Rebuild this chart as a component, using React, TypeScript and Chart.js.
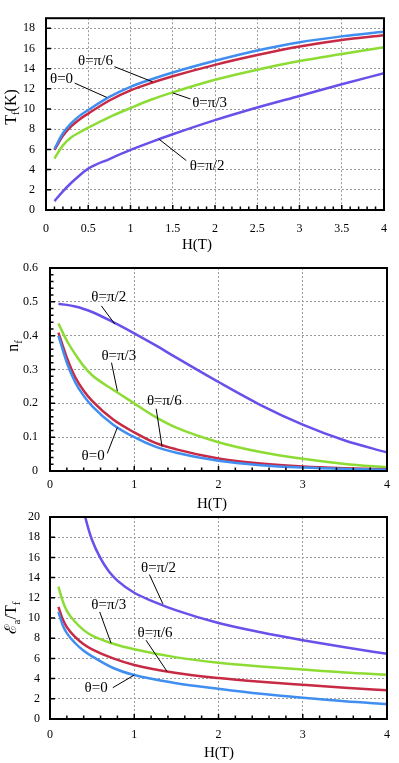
import React, { useEffect, useRef } from 'react';
import { Chart, registerables } from 'chart.js';
Chart.register(...registerables);

// ---------- Data ----------
// Panel 1: T_f(K) vs H(T)
const H1 = [0.1, 0.2, 0.3, 0.4, 0.5, 0.75, 1, 1.25, 1.5, 2, 2.5, 3, 3.5, 4];
const tfTheta0 = [6.05, 7.6, 8.6, 9.35, 9.9, 11.2, 12.2, 12.95, 13.62, 14.78, 15.8, 16.62, 17.2, 17.65];
const tfThetaPi6 = [5.95, 7.35, 8.3, 9.0, 9.55, 10.85, 11.85, 12.6, 13.25, 14.38, 15.35, 16.2, 16.85, 17.32];
const tfThetaPi3 = [5.1, 6.4, 7.2, 7.7, 8.15, 9.2, 10.1, 10.95, 11.65, 12.9, 13.9, 14.75, 15.45, 16.13];
const tfThetaPi2 = [0.88, 1.85, 2.7, 3.45, 4.1, 5.05, 5.95, 6.75, 7.5, 8.9, 10.15, 11.3, 12.45, 13.55];

// Panel 2: n_f vs H(T)
const H2 = [0.1, 0.2, 0.3, 0.4, 0.5, 0.75, 1, 1.25, 1.5, 2, 2.5, 3, 3.5, 4];
const nfTheta0 = [0.4, 0.32, 0.262, 0.222, 0.192, 0.137, 0.1, 0.072, 0.054, 0.03, 0.017, 0.01, 0.006, 0.004];
const nfThetaPi6 = [0.409, 0.335, 0.277, 0.237, 0.207, 0.152, 0.114, 0.083, 0.064, 0.037, 0.022, 0.013, 0.008, 0.005];
const nfThetaPi3 = [0.436, 0.385, 0.345, 0.31, 0.283, 0.24, 0.2, 0.16, 0.128, 0.085, 0.056, 0.036, 0.021, 0.011];
const nfThetaPi2 = [0.494, 0.491, 0.486, 0.479, 0.47, 0.44, 0.407, 0.372, 0.335, 0.263, 0.195, 0.137, 0.09, 0.055];

// Panel 3: E_a/T_f vs H(T)
const H3 = [0.1, 0.15, 0.2, 0.3, 0.4, 0.5, 0.75, 1, 1.5, 2, 2.5, 3, 3.5, 4];
const eaTheta0 = [10.6, 9.3, 8.5, 7.5, 6.75, 6.2, 5.05, 4.35, 3.55, 3.0, 2.5, 2.1, 1.75, 1.48];
const eaThetaPi6 = [11.1, 9.9, 9.1, 8.1, 7.4, 6.9, 6.0, 5.35, 4.55, 4.05, 3.68, 3.38, 3.1, 2.85];
const eaThetaPi3 = [13.1, 11.7, 10.7, 9.6, 8.8, 8.25, 7.45, 6.9, 6.1, 5.57, 5.2, 4.89, 4.6, 4.39];
const H3pi2 = [0.4, 0.45, 0.5, 0.6, 0.7, 0.8, 1, 1.25, 1.5, 2, 2.5, 3, 3.5, 4];
const eaThetaPi2 = [20.6, 19.0, 17.7, 15.9, 14.6, 13.7, 12.5, 11.55, 10.75, 9.5, 8.58, 7.8, 7.1, 6.45];

const seriesLabels = ['θ=0', 'θ=π/6', 'θ=π/3', 'θ=π/2'];
const COLORS = ['#3f8ef0', '#c62a44', '#8cdc34', '#6a50ea'];

// ---------- Layout ----------
const W = 399;
const HT = 763;
const SERIF = '"Liberation Serif", "Times New Roman", serif';

type Ann = { text: string; tx: number; ty: number; x1: number; y1: number; x2: number; y2: number };
type Seg = { t: string; sub?: boolean };

interface PanelCfg {
  series: { x: number[]; y: number[]; color: string }[];
  L: number; R: number; T: number; B: number;
  xStep: number; yMax: number; yStep: number;
  xMinor: number; yMinor: number | null;
  xPad: number; yPad: number;
  xTitle: { x: number; y: number };
  yTitle: { x: number; y: number; segs: Seg[] };
  anns: Ann[];
}

const panel1: PanelCfg = {
  series: [
    { x: H1, y: tfTheta0, color: COLORS[0] },
    { x: H1, y: tfThetaPi6, color: COLORS[1] },
    { x: H1, y: tfThetaPi3, color: COLORS[2] },
    { x: H1, y: tfThetaPi2, color: COLORS[3] },
  ],
  L: 46, R: 386, T: 8, B: 210,
  xStep: 0.5, yMax: 19, yStep: 2, xMinor: 0.1, yMinor: null,
  xPad: 12, yPad: 11,
  xTitle: { x: 197, y: 245 },
  yTitle: { x: 12.5, y: 107, segs: [{ t: 'T' }, { t: 'f', sub: true }, { t: '(K)' }] },
  anns: [
    { text: seriesLabels[1], tx: 0.38, ty: 14.75, x1: 0.81, y1: 14.2, x2: 1.26, y2: 12.7 },
    { text: seriesLabels[0], tx: 0.047, ty: 12.95, x1: 0.34, y1: 12.57, x2: 0.72, y2: 11.15 },
    { text: seriesLabels[2], tx: 1.73, ty: 10.64, x1: 1.71, y1: 11.0, x2: 1.5, y2: 11.6 },
    { text: seriesLabels[3], tx: 1.7, ty: 4.33, x1: 1.66, y1: 4.9, x2: 1.34, y2: 7.0 },
  ],
};

const panel2: PanelCfg = {
  series: [
    { x: H2, y: nfTheta0, color: COLORS[0] },
    { x: H2, y: nfThetaPi6, color: COLORS[1] },
    { x: H2, y: nfThetaPi3, color: COLORS[2] },
    { x: H2, y: nfThetaPi2, color: COLORS[3] },
  ],
  L: 50, R: 387, T: 268, B: 471,
  xStep: 1, yMax: 0.6, yStep: 0.1, xMinor: 0.2, yMinor: 0.02,
  xPad: 7, yPad: 12,
  xTitle: { x: 212, y: 504 },
  yTitle: { x: 15, y: 346, segs: [{ t: 'n' }, { t: 'f', sub: true }] },
  anns: [
    { text: seriesLabels[3], tx: 0.49, ty: 0.513, x1: 0.61, y1: 0.488, x2: 0.77, y2: 0.434 },
    { text: seriesLabels[2], tx: 0.61, ty: 0.34, x1: 0.73, y1: 0.32, x2: 0.8, y2: 0.236 },
    { text: seriesLabels[1], tx: 1.15, ty: 0.206, x1: 1.26, y1: 0.184, x2: 1.33, y2: 0.072 },
    { text: seriesLabels[0], tx: 0.375, ty: 0.043, x1: 0.68, y1: 0.052, x2: 0.8, y2: 0.129 },
  ],
};

const panel3: PanelCfg = {
  series: [
    { x: H3, y: eaTheta0, color: COLORS[0] },
    { x: H3, y: eaThetaPi6, color: COLORS[1] },
    { x: H3, y: eaThetaPi3, color: COLORS[2] },
    { x: H3pi2, y: eaThetaPi2, color: COLORS[3] },
  ],
  L: 50, R: 390, T: 517, B: 719,
  xStep: 1, yMax: 20, yStep: 2, xMinor: 0.2, yMinor: null,
  xPad: 9, yPad: 10,
  xTitle: { x: 219, y: 753 },
  yTitle: { x: 13, y: 618, segs: [{ t: 'ℰ' }, { t: 'a', sub: true }, { t: '/T' }, { t: 'f', sub: true }] },
  anns: [
    { text: seriesLabels[3], tx: 1.08, ty: 14.96, x1: 1.18, y1: 14.3, x2: 1.34, y2: 11.4 },
    { text: seriesLabels[2], tx: 0.49, ty: 11.27, x1: 0.59, y1: 10.6, x2: 0.725, y2: 7.5 },
    { text: seriesLabels[1], tx: 1.04, ty: 8.47, x1: 1.14, y1: 7.8, x2: 1.39, y2: 4.7 },
    { text: seriesLabels[0], tx: 0.41, ty: 3.1, x1: 0.745, y1: 3.1, x2: 1.0, y2: 4.35 },
  ],
};

const fmt = (v: any) => `${parseFloat(Number(v).toFixed(3))}`;

function makeDecorPlugin(p: PanelCfg) {
  return {
    id: 'decor',
    afterDatasetsDraw(chart: any) {
      const ctx = chart.ctx as CanvasRenderingContext2D;
      const xs = chart.scales.x;
      const ys = chart.scales.y;
      const ca = chart.chartArea;
      ctx.save();
      // inward ticks
      ctx.strokeStyle = '#000';
      ctx.lineWidth = 1.5;
      ctx.beginPath();
      const nx = Math.round(4 / p.xMinor);
      for (let i = 1; i < nx; i++) {
        const v = i * p.xMinor;
        const px = xs.getPixelForValue(v);
        const major = Math.abs(v / p.xStep - Math.round(v / p.xStep)) < 1e-6;
        const len = major ? 5 : 3.5;
        ctx.moveTo(px, ca.bottom);
        ctx.lineTo(px, ca.bottom - len);
      }
      const yStepTick = p.yMinor ?? p.yStep;
      const ny = Math.round(p.yMax / yStepTick);
      for (let i = 1; i <= ny; i++) {
        const v = i * yStepTick;
        if (v >= p.yMax - 1e-9) continue;
        const py = ys.getPixelForValue(v);
        const major = Math.abs(v / p.yStep - Math.round(v / p.yStep)) < 1e-6;
        const len = major ? 5 : 3.5;
        ctx.moveTo(ca.left, py);
        ctx.lineTo(ca.left + len, py);
      }
      ctx.stroke();
      // frame
      ctx.lineWidth = 2;
      ctx.strokeRect(ca.left, ca.top, ca.right - ca.left, ca.bottom - ca.top);
      // annotations
      ctx.lineWidth = 1;
      ctx.font = `15px ${SERIF}`;
      ctx.fillStyle = '#000';
      ctx.textAlign = 'left';
      ctx.textBaseline = 'middle';
      for (const a of p.anns) {
        ctx.beginPath();
        ctx.moveTo(xs.getPixelForValue(a.x1), ys.getPixelForValue(a.y1));
        ctx.lineTo(xs.getPixelForValue(a.x2), ys.getPixelForValue(a.y2));
        ctx.stroke();
        ctx.fillText(a.text, xs.getPixelForValue(a.tx), ys.getPixelForValue(a.ty));
      }
      // x title
      ctx.textAlign = 'center';
      ctx.font = `15px ${SERIF}`;
      ctx.fillText('H(T)', p.xTitle.x, p.xTitle.y);
      // y title (rotated, with subscripts)
      const mainFont = `16px ${SERIF}`;
      const subFont = `11px ${SERIF}`;
      let total = 0;
      for (const s of p.yTitle.segs) {
        ctx.font = s.sub ? subFont : mainFont;
        total += ctx.measureText(s.t).width;
      }
      ctx.translate(p.yTitle.x, p.yTitle.y);
      ctx.rotate(-Math.PI / 2);
      ctx.textAlign = 'left';
      let cx = -total / 2;
      for (const s of p.yTitle.segs) {
        ctx.font = s.sub ? subFont : mainFont;
        ctx.fillText(s.t, cx, s.sub ? 4 : -1);
        cx += ctx.measureText(s.t).width;
      }
      ctx.restore();
    },
  };
}

function buildConfig(p: PanelCfg): any {
  return {
    type: 'line',
    data: {
      datasets: p.series.map((s) => ({
        data: s.x.map((x, i) => ({ x, y: s.y[i] })),
        borderColor: s.color,
        borderWidth: 2.5,
        pointRadius: 0,
        fill: false,
        cubicInterpolationMode: 'monotone',
      })),
    },
    options: {
      responsive: false,
      animation: false,
      devicePixelRatio: 1,
      events: [],
      layout: { padding: { top: p.T, right: W - p.R, bottom: 0, left: 0 }, autoPadding: false },
      plugins: { legend: { display: false }, tooltip: { enabled: false }, title: { display: false } },
      scales: {
        x: {
          type: 'linear',
          min: 0,
          max: 4,
          ticks: {
            stepSize: p.xStep,
            padding: p.xPad,
            color: '#000',
            font: { family: SERIF, size: 12 },
            maxRotation: 0,
            autoSkip: false,
            includeBounds: false,
            callback: fmt,
          },
          grid: { color: '#9a9a9a', lineWidth: 1, drawTicks: false },
          border: { display: false, dash: [2, 2] },
          afterFit: (s: any) => { s.height = HT - p.B; },
        },
        y: {
          type: 'linear',
          min: 0,
          max: p.yMax,
          ticks: {
            stepSize: p.yStep,
            padding: p.yPad,
            color: '#000',
            font: { family: SERIF, size: 12 },
            autoSkip: false,
            includeBounds: false,
            callback: fmt,
          },
          grid: { color: '#9a9a9a', lineWidth: 1, drawTicks: false },
          border: { display: false, dash: [2, 2] },
          afterFit: (s: any) => { s.width = p.L; },
        },
      },
    },
    plugins: [makeDecorPlugin(p)],
  };
}

function Panel({ cfg }: { cfg: PanelCfg }) {
  const ref = useRef<HTMLCanvasElement | null>(null);
  useEffect(() => {
    if (!ref.current) return;
    const chart = new Chart(ref.current, buildConfig(cfg));
    return () => chart.destroy();
  }, [cfg]);
  return (
    <canvas
      ref={ref}
      width={W}
      height={HT}
      style={{ position: 'absolute', left: 0, top: 0, width: W, height: HT }}
    />
  );
}

export default function App() {
  return (
    <div style={{ position: 'absolute', left: 0, top: 0, width: W, height: HT, background: '#fff', overflow: 'hidden' }}>
      <Panel cfg={panel1} />
      <Panel cfg={panel2} />
      <Panel cfg={panel3} />
    </div>
  );
}
